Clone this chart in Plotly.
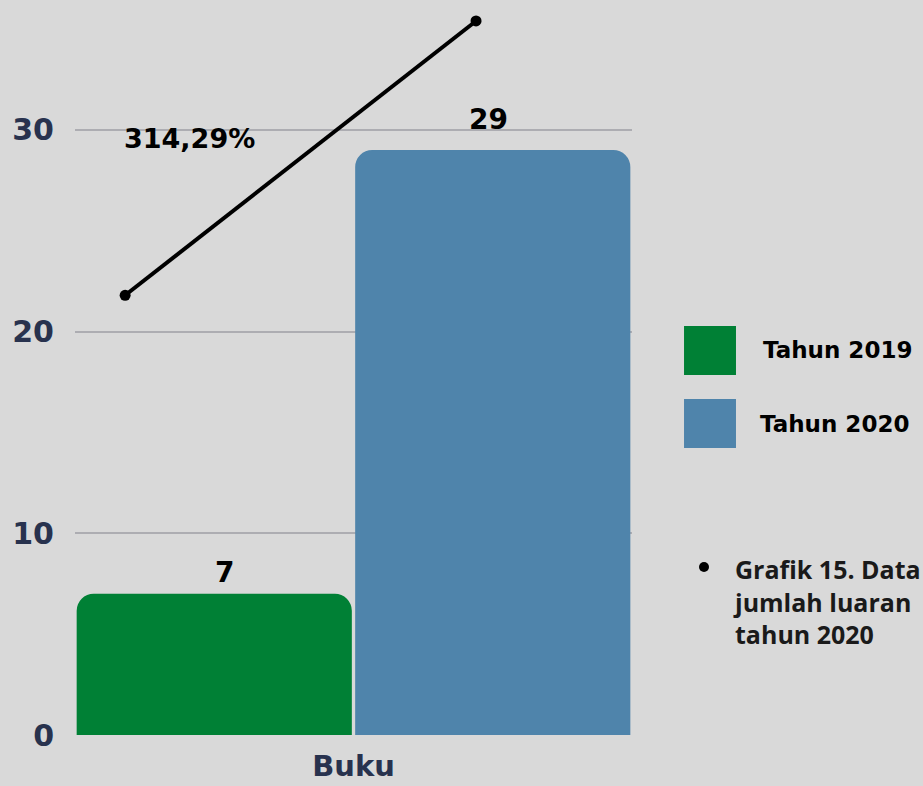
import plotly.graph_objects as go

categories = ["Buku"]
series_names = ["Tahun 2019", "Tahun 2020"]
values_2019 = [7]
values_2020 = [29]
colors = ["#008035", "#4f84ab"]
growth_label = "314,29%"
line_x = [0.09, 0.72]
line_y = [21.8, 35.4]
y_ticks = [0, 10, 20, 30]
caption = "Grafik 15. Data<br>jumlah luaran<br>tahun 2020"

BG = "#d9d9d9"
NAVY = "#28324e"
NUMFONT = "DejaVu Sans"

fig = go.Figure()
for name, vals, col in zip(series_names, [values_2019, values_2020], colors):
    fig.add_trace(go.Bar(
        x=categories, y=vals, name=name, marker_color=col, marker_line_width=0,
        showlegend=False,
    ))

# value labels above bars
label_x = [0.269, 0.743]
label_shift = [3, 12]
for lx, v, ys in zip(label_x, [values_2019[0], values_2020[0]], label_shift):
    fig.add_annotation(x=lx, y=v, xref="x2", yref="y", text=str(v), showarrow=False,
                       yanchor="bottom", xanchor="center", yshift=ys,
                       font=dict(family=NUMFONT, size=28, color="#000000", weight="bold"))

fig.add_trace(go.Scatter(
    x=line_x, y=line_y, xaxis="x2", mode="lines+markers",
    line=dict(color="#000000", width=4), marker=dict(color="#000000", size=11),
    showlegend=False, cliponaxis=False,
))

fig.add_annotation(x=(189 - 75) / 557, y=(735 - 138) / 735, xref="paper", yref="paper",
                   xanchor="center", yanchor="middle",
                   text=growth_label, showarrow=False,
                   font=dict(family=NUMFONT, size=27, color="#000000", weight="bold"))

# custom legend
legend_rows = [(0.4898, 0.5565, colors[0], series_names[0], (763 - 75) / 557),
               (0.3905, 0.4571, colors[1], series_names[1], (760 - 75) / 557)]
for y0, y1, col, name, tx in legend_rows:
    fig.add_shape(type="rect", xref="paper", yref="paper", x0=1.0934, x1=1.1867,
                  y0=y0, y1=y1, fillcolor=col, line_width=0)
    fig.add_annotation(xref="paper", yref="paper", x=tx, y=(y0 + y1) / 2, xanchor="left",
                       yanchor="middle", text=name, showarrow=False, xshift=-2,
                       font=dict(family=NUMFONT, size=23, color="#000000", weight="bold"))

fig.add_annotation(xref="paper", yref="paper", x=(733 - 75) / 557, y=(735 - 601) / 735,
                   xanchor="left", yanchor="middle", align="left", text=caption,
                   showarrow=False, xshift=-2,
                   font=dict(family="Open Sans", size=25, color="#1a1a1a", weight="bold"))
fig.add_shape(type="circle", xref="paper", yref="paper", xsizemode="pixel", ysizemode="pixel",
              xanchor=(704 - 75) / 557, yanchor=(735 - 567) / 735,
              x0=-5, x1=5, y0=-5, y1=5, fillcolor="#000000", line_width=0)

fig.update_layout(
    width=923, height=786, paper_bgcolor=BG, plot_bgcolor=BG,
    margin=dict(l=75, r=291, t=0, b=51),
    barmode="group", bargap=0, bargroupgap=0.012, barcornerradius=17,
    xaxis=dict(showgrid=False, showline=False, ticks="", ticklabelstandoff=11,
               automargin=False,
               tickfont=dict(family=NUMFONT, size=29, color=NAVY, weight="bold")),
    xaxis2=dict(overlaying="x", range=[0, 1], visible=False),
    yaxis=dict(range=[0, 36.44], tickvals=y_ticks, showgrid=True, gridcolor="#adadb2",
               gridwidth=1.5, zeroline=False, showline=False, ticklabelstandoff=20,
               automargin=False,
               tickfont=dict(family=NUMFONT, size=30, color=NAVY, weight="bold")),
)

fig.write_html("out.html", config={"displayModeBar": False},
               post_script="document.body.style.margin='0';")
